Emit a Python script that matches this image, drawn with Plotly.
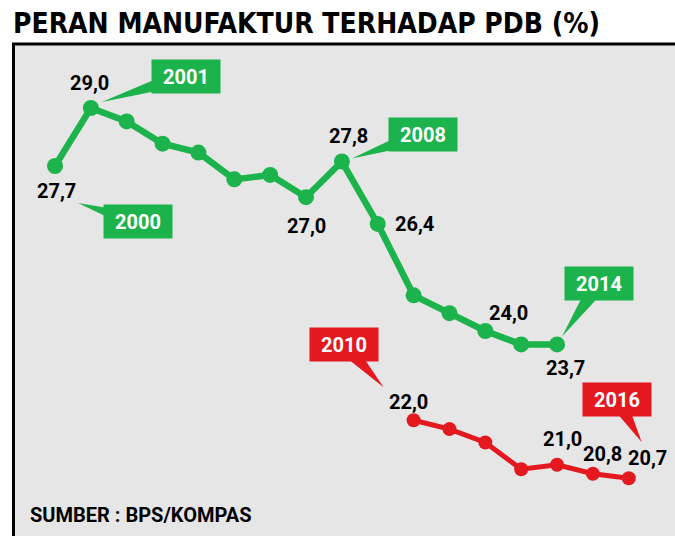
import plotly.graph_objects as go
import math

# data
years_green = list(range(2000, 2015))
green_vals = [27.7, 29.0, 28.7, 28.2, 28.0, 27.4, 27.5, 27.0, 27.8, 26.4, 24.8, 24.4, 24.0, 23.7, 23.7]
years_red = list(range(2010, 2017))
red_vals = [22.0, 21.8, 21.5, 20.9, 21.0, 20.8, 20.7]

title = "PERAN MANUFAKTUR TERHADAP PDB (%)"
source = "SUMBER : BPS/KOMPAS"

GREEN = '#1db34c'
RED = '#e3191f'
W, H = 675, 536

# which values get a number label, with pixel shift (x, y)
green_labels = {2000: (1, -25), 2001: (-1, 25), 2007: (0, -29), 2008: (7, 26),
                2009: (37, 0), 2012: (23, 18), 2014: (8, -24)}
red_labels = {2010: (-5, 18), 2014: (5, 26), 2015: (10, 20), 2016: (19, 20)}

# year callouts: year -> (series, tip shift x, tip shift y, ax, ay)
callouts = [
    (2000, 'g', 23, -37, 60, 19),
    (2001, 'g', 11, 6, 84, -26),
    (2008, 'g', 10, 3, 71, -24),
    (2014, 'g', 5, 8, 37, -53),
    (2010, 'r', -30, 33, -40, -43),
    (2016, 'r', 13, 36, -25, -43),
]

fmt = lambda v: f"{v:.1f}".replace('.', ',')
lbl_font = dict(family="Roboto, Arial, sans-serif", size=20, color='black', weight='bold')

fig = go.Figure()
fig.add_trace(go.Scatter(x=years_green, y=green_vals, mode='lines+markers',
                         line=dict(color=GREEN, width=6.5),
                         marker=dict(color=GREEN, size=16),
                         showlegend=False, hoverinfo='skip'))
fig.add_trace(go.Scatter(x=years_red, y=red_vals, mode='lines+markers',
                         line=dict(color=RED, width=5),
                         marker=dict(color=RED, size=14),
                         showlegend=False, hoverinfo='skip'))

anns = []
shapes = []
for yr, (dx, dy) in green_labels.items():
    v = green_vals[years_green.index(yr)]
    anns.append(dict(x=yr, y=v, text=fmt(v), showarrow=False, xshift=dx, yshift=dy, font=lbl_font))
for yr, (dx, dy) in red_labels.items():
    v = red_vals[years_red.index(yr)]
    anns.append(dict(x=yr, y=v, text=fmt(v), showarrow=False, xshift=dx, yshift=dy, font=lbl_font))

for yr, s, dx, dy, ax, ay in callouts:
    if s == 'g':
        v, c = green_vals[years_green.index(yr)], GREEN
    else:
        v, c = red_vals[years_red.index(yr)], RED
    # wedge pointer in pixels relative to the data point (y up)
    tx, ty = dx, dy
    bx, by = dx + ax, dy - ay
    L = math.hypot(bx - tx, by - ty)
    nx, ny = -(by - ty) / L * 9, (bx - tx) / L * 9
    path = f"M {tx},{ty} L {bx + nx:.1f},{by + ny:.1f} L {bx - nx:.1f},{by - ny:.1f} Z"
    shapes.append(dict(type='path', xref='x', yref='y', xsizemode='pixel', ysizemode='pixel',
                       xanchor=yr, yanchor=v, path=path, fillcolor=c, line=dict(width=0)))
    anns.append(dict(x=yr, y=v, xshift=dx, yshift=dy, text=str(yr), showarrow=True,
                     ax=ax, ay=ay, arrowhead=0, arrowwidth=1, arrowcolor='rgba(0,0,0,0)',
                     bgcolor=c, width=64, height=29, borderpad=2,
                     font=dict(family="Roboto, Arial, sans-serif", size=20, color='white', weight='bold')))

anns.append(dict(x=11 / W, y=1 - 42 / H, xref='paper', yref='paper', xanchor='left', yanchor='bottom',
                 text=title, showarrow=False,
                 font=dict(family="Liberation Sans Narrow, DejaVu Sans Condensed, sans-serif",
                           size=28, color='black', weight='bold')))
anns.append(dict(x=28 / W, y=1 - 515 / H, xref='paper', yref='paper', xanchor='left', yanchor='middle',
                 text=source, showarrow=False,
                 font=dict(family="Roboto, Arial, sans-serif", size=20, color='black', weight='bold')))

top = 1 - 44 / H
shapes += [
    dict(type='rect', xref='paper', yref='paper', x0=12 / W, x1=1, y0=0, y1=top,
         fillcolor='#e6e6e6', line=dict(width=0), layer='below'),
    dict(type='line', xref='paper', yref='paper', x0=13.5 / W, x1=13.5 / W, y0=0, y1=top,
         line=dict(color='black', width=3), layer='below'),
    dict(type='line', xref='paper', yref='paper', x0=12 / W, x1=1, y0=top, y1=top,
         line=dict(color='black', width=3), layer='below'),
]

# px mapping: 2000 -> 55px, 35.86 px/year ; 29.0 -> 108px, 44.6 px/unit
xpy, ypu = 35.86, 44.6
fig.update_layout(
    width=W, height=H,
    margin=dict(l=0, r=0, t=0, b=0),
    paper_bgcolor='white', plot_bgcolor='white',
    xaxis=dict(visible=False, range=[2000 - 55 / xpy, 2000 + (W - 55) / xpy]),
    yaxis=dict(visible=False, range=[29 - (H - 108) / ypu, 29 + 108 / ypu]),
    annotations=anns, shapes=shapes,
)
fig.write_html("out.html", config={'displayModeBar': False},
               post_script="document.body.style.margin='0';document.body.style.overflow='hidden';")
